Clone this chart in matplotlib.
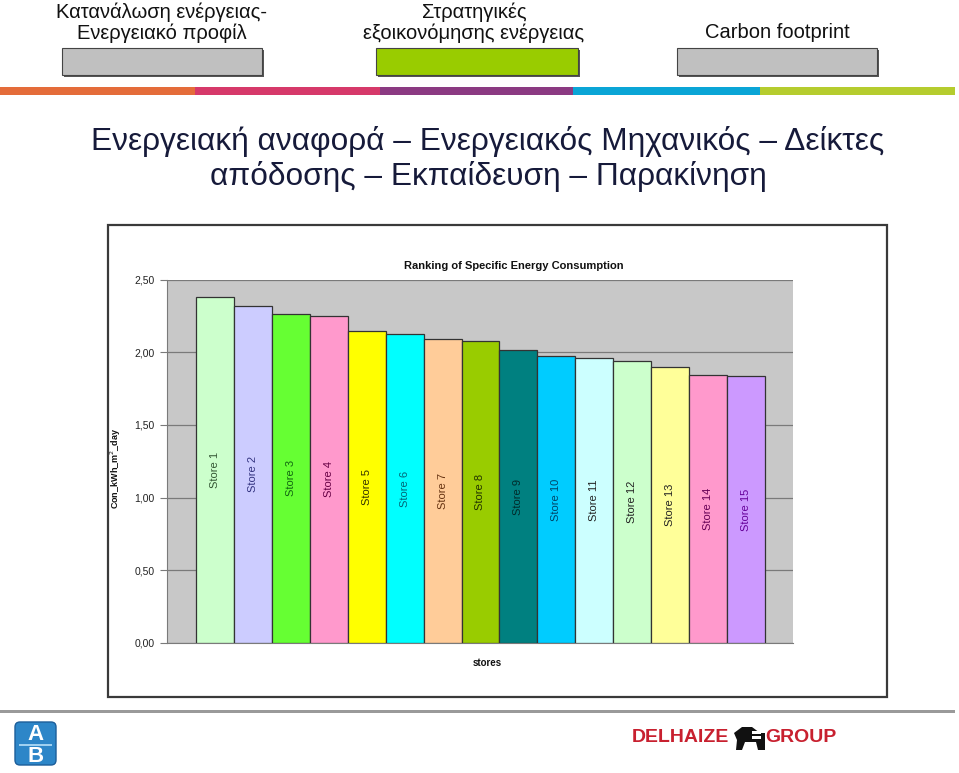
import matplotlib
matplotlib.use("Agg")
import matplotlib.pyplot as plt
from matplotlib import font_manager as fm
from matplotlib.patches import Rectangle, FancyBboxPatch, Polygon

# ---------------- data ----------------
stores = ["Store 1", "Store 2", "Store 3", "Store 4", "Store 5", "Store 6", "Store 7",
          "Store 8", "Store 9", "Store 10", "Store 11", "Store 12", "Store 13",
          "Store 14", "Store 15"]
values = [2.38, 2.32, 2.266, 2.252, 2.149, 2.122, 2.088, 2.078, 2.014, 1.975,
          1.959, 1.938, 1.897, 1.842, 1.835]
bar_colors = ["#CCFFCC", "#CCCCFF", "#66FF33", "#FF99CC", "#FFFF00", "#00FFFF",
              "#FFCC99", "#99CC00", "#008080", "#00CCFF", "#CCFFFF", "#CCFFCC",
              "#FFFF99", "#FF99CC", "#CC99FF"]
label_colors = ["#335533", "#333380", "#116611", "#660044", "#333300", "#006677",
                "#663311", "#223300", "#002b2b", "#004466", "#222222", "#222222",
                "#222222", "#660055", "#660099"]
y_ticks = [0.0, 0.5, 1.0, 1.5, 2.0, 2.5]
y_tick_labels = ["0,00", "0,50", "1,00", "1,50", "2,00", "2,50"]
chart_title = "Ranking of Specific Energy Consumption"
x_title = "stores"
y_title = "Con_kWh_m$^{2}$_day"
header_lines = [["Κατανάλωση ενέργειας-", "Ενεργειακό προφίλ"],
                ["Στρατηγικές", "εξοικονόμησης ενέργειας"],
                ["Carbon footprint"]]
main_title = "Ενεργειακή αναφορά – Ενεργειακός Μηχανικός – Δείκτες\nαπόδοσης – Εκπαίδευση – Παρακίνηση"

names = {f.name for f in fm.fontManager.ttflist}
narrow = "Liberation Sans Narrow" if "Liberation Sans Narrow" in names else "Liberation Sans"
arial = "Liberation Sans"

W, H = 959, 773
fig = plt.figure(figsize=(W / 100, H / 100), dpi=100)
fig.patch.set_facecolor("white")

# ---------------- decoration layer (pixel coordinates) ----------------
bg = fig.add_axes([0, 0, 1, 1], zorder=0)
bg.set_xlim(0, W)
bg.set_ylim(H, 0)
bg.axis("off")

# header texts
hdr = dict(ha="center", va="center", fontsize=14.5, family=narrow, color="#111111")
bg.text(162, 12, header_lines[0][0], **hdr)
bg.text(162, 33, header_lines[0][1], **hdr)
bg.text(474, 12, header_lines[1][0], **hdr)
bg.text(474, 33, header_lines[1][1], **hdr)
bg.text(777, 33, header_lines[2][0], **hdr)

# header boxes
for x0, x1, col in [(62, 262, "#C0C0C0"), (376, 578, "#99CC00"), (677, 877, "#C0C0C0")]:
    bg.add_patch(Rectangle((x0 + 2, 50), x1 - x0, 27, facecolor="#555555", edgecolor="none"))
    bg.add_patch(Rectangle((x0, 48), x1 - x0, 27, facecolor=col, edgecolor="#444444", lw=0.8))

# colour strip
for x0, x1, col in [(0, 195, "#E46C3A"), (195, 380, "#D6396A"), (380, 573, "#8B3A82"),
                    (573, 760, "#0AA5D6"), (760, 955, "#B5CC2E")]:
    bg.add_patch(Rectangle((x0, 87), x1 - x0, 8, facecolor=col, edgecolor="none"))

# main title
bg.text(488, 159, main_title, ha="center", va="center", fontsize=22.8,
        family=narrow, color="#161a3a", linespacing=1.15)

# chart frame
bg.add_patch(Rectangle((108, 225), 779, 472, facecolor="white", edgecolor="#3a3a3a", lw=1.6))

# bottom separator
bg.add_patch(Rectangle((0, 710), 955, 3, facecolor="#9a9a9a", edgecolor="none"))

# AB logo
bg.add_patch(FancyBboxPatch((15, 722), 41, 43, boxstyle="round,pad=0,rounding_size=5",
                            facecolor="#2D86C8", edgecolor="#1C5E9A", lw=1))
bg.add_patch(Rectangle((19, 744), 33, 2, facecolor="#9fd0f0", edgecolor="none"))
bg.text(35.5, 734, "A", ha="center", va="center", fontsize=16, fontweight="bold",
        color="white", family=arial)
bg.text(35.5, 756, "B", ha="center", va="center", fontsize=16, fontweight="bold",
        color="white", family=arial)

# Delhaize group
bg.text(632, 738, "DELHAIZE", ha="left", va="center", fontsize=14, fontweight="bold",
        color="#C8202F", family=narrow)
bg.text(836, 738, "GROUP", ha="right", va="center", fontsize=14, fontweight="bold",
        color="#C8202F", family=narrow)
bg.add_patch(Polygon([(734, 733), (742, 727), (752, 727), (760, 733), (765, 733),
                      (765, 750), (758, 750), (756, 742), (745, 742), (742, 750),
                      (736, 750), (737, 740)], closed=True, facecolor="#111111",
                     edgecolor="none"))
bg.add_patch(Rectangle((752, 731), 9, 3, facecolor="white", edgecolor="none"))
bg.add_patch(Rectangle((752, 736), 9, 3, facecolor="white", edgecolor="none"))

# ---------------- chart ----------------
left, right = 167 / W, 793 / W
bottom, top = 1 - 643 / H, 1 - 279.5 / H
ax = fig.add_axes([left, bottom, right - left, top - bottom], zorder=1)
ax.set_facecolor("#C8C8C8")

x = list(range(len(stores)))
ax.bar(x, values, width=1.0, color=bar_colors, edgecolor="#333333", linewidth=0.9, zorder=3)
for xi, v, lab, lc in zip(x, values, stores, label_colors):
    ax.text(xi, v / 2, lab, rotation=90, ha="center", va="center", fontsize=8,
            color=lc, family=arial, zorder=4)

ax.set_xlim(-1.265, 15.24)
ax.set_ylim(0, 2.5)
ax.set_yticks(y_ticks)
ax.set_yticklabels(y_tick_labels, family=arial, fontsize=7.5, color="#222222")
ax.set_xticks([])
ax.yaxis.grid(True, color="#7a7a7a", lw=0.9, zorder=1)
ax.tick_params(axis="y", length=5, width=0.8, color="#7a7a7a", pad=4)
for s in ["top", "right"]:
    ax.spines[s].set_visible(False)
ax.spines["left"].set_color("#7a7a7a")
ax.spines["bottom"].set_color("#7a7a7a")

fig.text(514 / W, 1 - 266 / H, chart_title, ha="center", va="center", fontsize=8,
         fontweight="bold", family=arial, color="#111111")
fig.text(487 / W, 1 - 663 / H, x_title, ha="center", va="center", fontsize=7,
         fontweight="bold", family=arial, color="#111111")
fig.text(116 / W, 1 - 468 / H, y_title, ha="center", va="center", rotation=90,
         fontsize=6.5, fontweight="bold", family=arial, color="#111111")

fig.savefig("out.png", dpi=100)
